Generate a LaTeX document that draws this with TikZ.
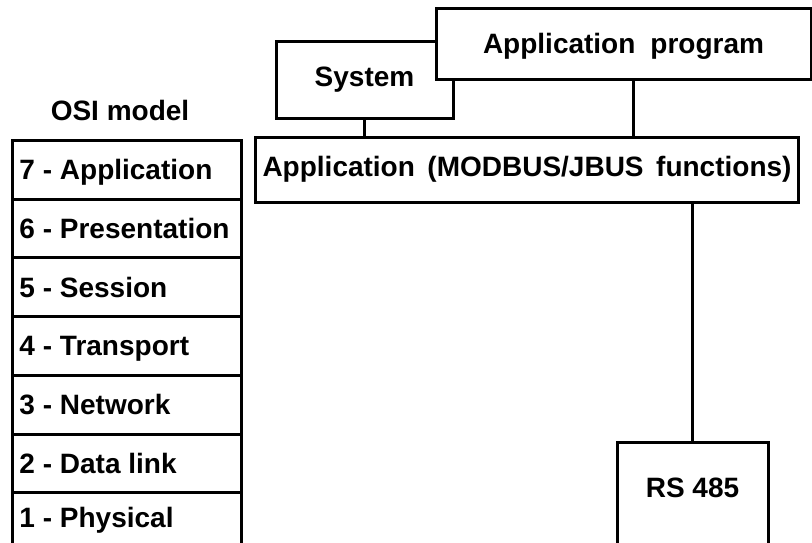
\documentclass[tikz,border=0pt]{standalone}
\usepackage{fontspec}
\setmainfont{Liberation Sans}
\begin{document}
\begin{tikzpicture}[x=1pt,y=-1pt,
  font=\bfseries\fontsize{28}{30}\selectfont,
  box/.style={draw, line width=3pt, fill=white, inner sep=0pt, text height=20pt, text depth=0pt},
  osirow/.style={box, anchor=north west, minimum width=229pt, minimum height=58.7pt, inner xsep=7pt},
  conn/.style={line width=3pt}]
\path[use as bounding box, clip] (0,0) rectangle (812,542);
\node[text height=20pt, text depth=0pt, inner sep=0pt] (osititle) at (120,110) {OSI model};
\foreach \i/\t [count=\k from 0] in {7/Application,6/Presentation,5/Session,4/Transport,3/Network,2/Data link}
  \node[osirow] (osi\i) at (11,{139+\k*58.7}) {\makebox[215pt][l]{\i{} - \t}};
\node[osirow] (osi1) at (11,{139+6*58.7}) {\raisebox{5pt}{\makebox[215pt][l]{1 - Physical}}};
\node[box, minimum width=177pt, minimum height=77pt] (sys) at (364.5,79.5) {\raisebox{3.5pt}{System}};
\node[box, minimum width=375pt, minimum height=71pt] (prog) at (623.5,43.5) {\makebox[281pt][s]{Application program}};
\node[box, anchor=north west, minimum width=543pt, minimum height=65pt, inner xsep=6pt] (app) at (254,136)
  {\raisebox{3.5pt}{\makebox[529pt][s]{Application (MODBUS/JBUS functions)}}};
\node[box, anchor=north, minimum width=151pt, minimum height=130pt,
  label={[anchor=center, yshift=-46pt, inner sep=0pt, text height=20pt, text depth=0pt]north:RS 485}] (rs) at (692.5,441) {};
\coordinate (pj) at ([xshift=9.5pt]prog.south);
\draw[conn] (sys.south) -- (sys.south |- app.north);
\draw[conn] (pj) -- (pj |- app.north);
\draw[conn] (app.south -| rs.north) -- (rs.north);
\end{tikzpicture}
\end{document}
